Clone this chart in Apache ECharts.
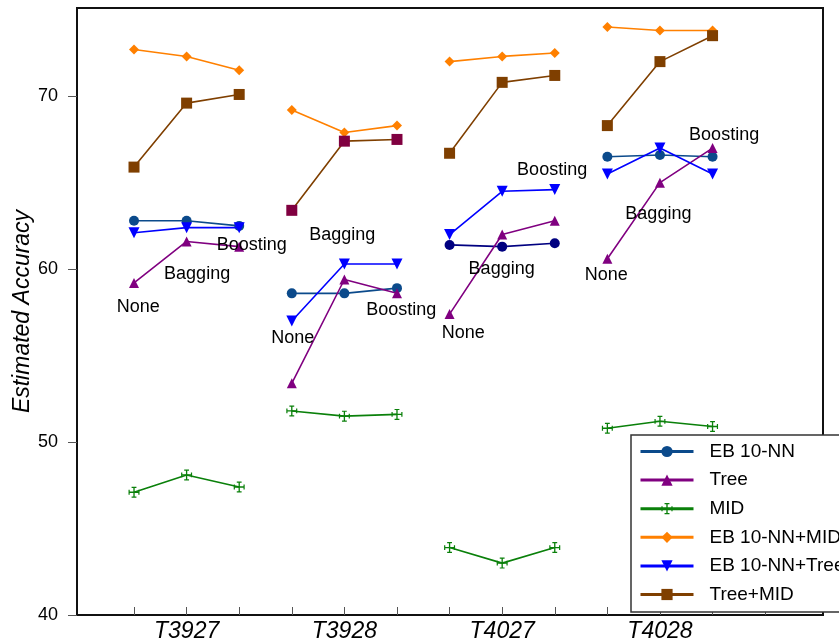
<!DOCTYPE html>
<html>
<head>
<meta charset="utf-8">
<script src="https://cdn.jsdelivr.net/npm/echarts@6/dist/echarts.min.js"></script>
<style>
html,body{margin:0;padding:0;background:#fff;}
#main{width:839px;height:644px;}
</style>
</head>
<body>
<div id="main"></div>
<script>
// ---- data ----
const datasets = ['T3927', 'T3928', 'T4027', 'T4028'];
const methods = ['None', 'Bagging', 'Boosting'];
const seriesNames = ['EB 10-NN', 'Tree', 'MID', 'EB 10-NN+MID', 'EB 10-NN+Tree', 'Tree+MID'];
const eb10nn     = [62.8, 62.8, 62.5,  58.6, 58.6, 58.9,  61.4, 61.3, 61.5,  66.5, 66.6, 66.5];
const tree       = [59.2, 61.6, 61.3,  53.4, 59.4, 58.6,  57.4, 62.0, 62.8,  60.6, 65.0, 67.0];
const mid        = [47.1, 48.1, 47.4,  51.8, 51.5, 51.6,  43.9, 43.0, 43.9,  50.8, 51.2, 50.9];
const eb10nnMid  = [72.7, 72.3, 71.5,  69.2, 67.9, 68.3,  72.0, 72.3, 72.5,  74.0, 73.8, 73.8];
const eb10nnTree = [62.1, 62.4, 62.4,  57.0, 60.3, 60.3,  62.0, 64.5, 64.6,  65.5, 67.0, 65.5];
const treeMid    = [65.9, 69.6, 70.1,  63.4, 67.4, 67.5,  66.7, 70.8, 71.2,  68.3, 72.0, 73.5];
const yTicks = [40, 50, 60, 70];
// annotation label anchor points (data coordinates), per dataset: None, Bagging, Boosting
const annX = [[1.08, 2.20, 3.24], [4.02, 4.96, 6.08], [7.26, 7.99, 8.95], [9.98, 10.97, 12.22]];
const annY = [[57.83, 59.73, 61.41], [56.04, 61.99, 57.66], [56.33, 60.02, 65.74], [59.68, 63.18, 67.76]];

// ---- styles ----
const FONT = 'Liberation Sans, Arial, sans-serif';
const midSymbol = 'path://M4.4,0h1.2v4.4h4.4v1.2h-4.4v4.4h-1.2v-4.4h-4.4v-1.2h4.4z M2.8,0h4.4v1.1h-4.4z M2.8,8.9h4.4v1.1h-4.4z M0,2.8h1.1v4.4h-1.1z M8.9,2.8h1.1v4.4h-1.1z';
const styles = [
  {color: '#0b4a8b', symbol: 'circle', size: 10},
  {color: '#800080', symbol: 'triangle', size: 10},
  {color: '#0a800a', symbol: midSymbol, size: 11},
  {color: '#ff8000', symbol: 'diamond', size: 10},
  {color: '#0000ff', symbol: 'triangle', size: 11, rotate: 180},
  {color: '#7f3f00', symbol: 'rect', size: 11}
];
const groupColorOverride = {
  '0-2': '#000080',   // EB 10-NN in T4027 is navy
  '5-1': '#800040'    // Tree+MID markers in T3928
};
const allValues = [eb10nn, tree, mid, eb10nnMid, eb10nnTree, treeMid];

const series = [];
allValues.forEach((vals, si) => {
  const st = styles[si];
  datasets.forEach((ds, gi) => {
    const data = methods.map((m, k) => [gi * methods.length + k + 1, vals[gi * methods.length + k]]);
    const ov = groupColorOverride[si + '-' + gi];
    series.push({
      type: 'line',
      name: seriesNames[si],
      data: data,
      symbol: st.symbol,
      symbolSize: st.size,
      symbolRotate: st.rotate || 0,
      lineStyle: {color: (ov && si === 0) ? ov : st.color, width: 1.6},
      itemStyle: {color: ov || st.color},
      color: st.color,
      z: 3 + si
    });
  });
});

// annotation texts
const annData = [];
datasets.forEach((ds, gi) => {
  methods.forEach((m, k) => {
    annData.push({value: [annX[gi][k], annY[gi][k]], label: {formatter: m}});
  });
});
series.push({
  type: 'scatter',
  name: 'annotations',
  data: annData,
  symbolSize: 1,
  itemStyle: {color: 'rgba(0,0,0,0)', opacity: 1},
  silent: true,
  z: 20,
  label: {
    show: true, position: 'inside', color: '#000', opacity: 1,
    textBorderWidth: 0,
    fontFamily: FONT, fontSize: 18
  }
});

const tickPositions = [];
for (let i = 1; i <= datasets.length * methods.length + 1; i++) tickPositions.push(i);
const labelPositions = datasets.map((d, gi) => gi * methods.length + 2);

const chart = echarts.init(document.getElementById('main'), null, {renderer: 'canvas'});
chart.setOption({
  animation: false,
  backgroundColor: '#fff',
  grid: {left: 77, top: 8, right: 16, bottom: 29, containLabel: false, outerBoundsMode: 'none',
         show: true, borderColor: '#111', borderWidth: 2, backgroundColor: 'transparent'},
  xAxis: {
    type: 'value', min: -0.084, max: 14.1,
    axisLine: {show: true, onZero: false, lineStyle: {color: '#111', width: 2}},
    axisTick: {show: true, inside: true, length: 8, customValues: tickPositions, lineStyle: {color: '#555', width: 1}},
    axisLabel: {
      show: true, customValues: labelPositions, margin: 5,
      formatter: v => datasets[Math.round((v - 2) / methods.length)],
      fontFamily: FONT, fontSize: 23, fontStyle: 'italic', color: '#000'
    },
    splitLine: {show: false}
  },
  yAxis: {
    type: 'value', min: 40, max: 75.1,
    name: 'Estimated Accuracy', nameLocation: 'middle', nameGap: 43, nameRotate: 90,
    nameMoveOverlap: false,
    nameTextStyle: {fontFamily: FONT, fontSize: 23, fontStyle: 'italic', color: '#000'},
    axisLine: {show: true, onZero: false, lineStyle: {color: '#111', width: 2}},
    axisTick: {show: true, inside: false, length: 9, customValues: yTicks, lineStyle: {color: '#555', width: 1}},
    axisLabel: {show: true, customValues: yTicks, margin: 19, fontFamily: FONT, fontSize: 18, color: '#000'},
    splitLine: {show: false}
  },
  legend: {
    data: seriesNames,
    orient: 'vertical',
    left: 631, top: 435,
    padding: [7, 40, 8, 8],
    itemWidth: 53, itemHeight: 14, itemGap: 9.6,
    backgroundColor: '#fff',
    borderColor: '#333', borderWidth: 1.5, borderRadius: 0,
    lineStyle: {width: 3},
    textStyle: {fontFamily: FONT, fontSize: 19, color: '#000', padding: [0, 0, 0, 11]},
    z: 30
  },
  series: series
});
</script>
</body>
</html>
